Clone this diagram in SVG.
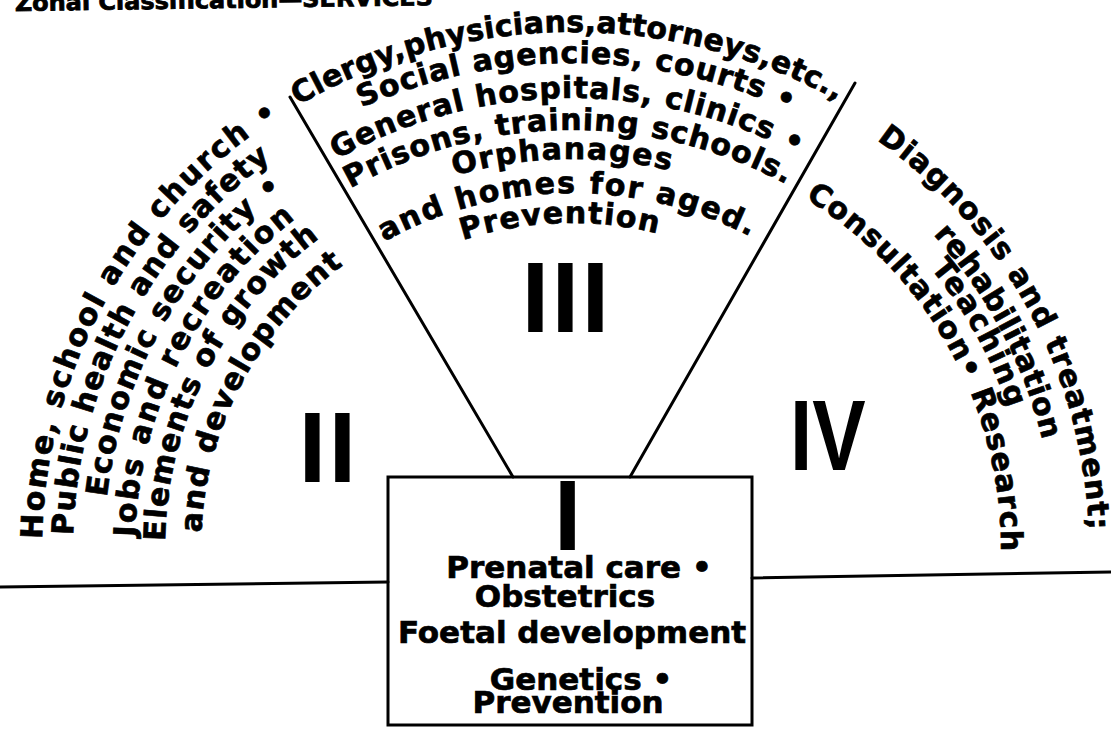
<svg xmlns="http://www.w3.org/2000/svg" width="1111" height="729" viewBox="0 0 1111 729">
<style>
.t{font-family:"DejaVu Sans","Liberation Sans",sans-serif;font-weight:bold;font-size:30px;fill:#000;stroke:#000;stroke-width:0.7}
.bx{font-family:"DejaVu Sans","Liberation Sans",sans-serif;font-weight:bold;font-size:31px;fill:#000;stroke:#000;stroke-width:0.7;text-anchor:middle}
.num{font-family:"Liberation Sans",Arial,sans-serif;font-weight:bold;font-size:100px;fill:#000}
.ln{stroke:#000;stroke-width:3;fill:none;stroke-linecap:round}
</style>
<defs>
<path id="a1" d="M42.1,539.1 A511,511 0 0 1 278.4,117.0"/>
<path id="a2" d="M73.2,535.4 A480,480 0 0 1 270.9,159.7"/>
<path id="a3" d="M106.9,497.2 A449,449 0 0 1 282.8,189.4"/>
<path id="a4" d="M135.1,537.1 A418,418 0 0 1 295.6,218.6"/>
<path id="a5" d="M165.1,541.2 A388,388 0 0 1 319.5,238.1"/>
<path id="a6" d="M201.3,532.6 A352,352 0 0 1 343.6,265.0"/>
<path id="b1" d="M298,105.4 A548,548 0 0 1 837.7,100.7"/>
<path id="b2" d="M361.7,107.7 A517,517 0 0 1 790.5,111.4"/>
<path id="b3" d="M336.8,159.3 A482,482 0 0 1 798.3,154.4"/>
<path id="b4" d="M350.4,188.3 A450,450 0 0 1 786.7,184.5"/>
<path id="b5" d="M454.5,175.7 A421,421 0 0 1 670.3,170.6"/>
<path id="b6" d="M384.4,241.5 A387,387 0 0 1 750.7,236.7"/>
<path id="b7" d="M462.9,240.1 A357,357 0 0 1 657.1,233.3"/>
<path id="c1" d="M876.6,140.0 A498,498 0 0 1 1088.7,530.6"/>
<path id="c2" d="M933.1,234.5 A464,464 0 0 1 1042.2,439.7"/>
<path id="c3" d="M930.5,268.1 A440,440 0 0 1 1008.3,408.4"/>
<path id="c4" d="M805.2,198.4 A410,410 0 0 1 1001,551.6"/>
</defs>

<g id="title">
<text x="15" y="11" transform="rotate(-0.8 15 11)" font-family="DejaVu Sans, Liberation Sans, sans-serif" font-weight="bold" font-size="23" stroke="#000" stroke-width="0.8" textLength="418" lengthAdjust="spacingAndGlyphs">Zonal Classification—SERVICES</text>
</g>

<g id="connectors">
<line class="ln" x1="0" y1="587" x2="388" y2="582"/>
<line class="ln" x1="752" y1="578" x2="1111" y2="572"/>
<line class="ln" x1="290" y1="97" x2="513" y2="477"/>
<line class="ln" x1="855" y1="83" x2="630" y2="477"/>
</g>

<g id="zone-II">
<text class="t"><textPath href="#a1" textLength="504" lengthAdjust="spacing">Home, school and church •</textPath></text>
<text class="t"><textPath href="#a2" textLength="440" lengthAdjust="spacing">Public health and safety</textPath></text>
<text class="t"><textPath href="#a3" textLength="364" lengthAdjust="spacing">Economic security •</textPath></text>
<text class="t"><textPath href="#a4" textLength="368" lengthAdjust="spacing">Jobs and recreation</textPath></text>
<text class="t"><textPath href="#a5" textLength="352" lengthAdjust="spacing">Elements of growth</textPath></text>
<text class="t"><textPath href="#a6" textLength="313" lengthAdjust="spacing">and development</textPath></text>
<text class="num" x="298.6" y="482" letter-spacing="2">II</text>
</g>

<g id="zone-III">
<text class="t"><textPath href="#b1" textLength="564" lengthAdjust="spacing">Clergy,physicians,attorneys,etc.,</textPath></text>
<text class="t"><textPath href="#b2" textLength="442" lengthAdjust="spacing">Social agencies, courts •</textPath></text>
<text class="t"><textPath href="#b3" textLength="481" lengthAdjust="spacing">General hospitals, clinics •</textPath></text>
<text class="t"><textPath href="#b4" textLength="455" lengthAdjust="spacing">Prisons, training schools.</textPath></text>
<text class="t"><textPath href="#b5" textLength="218" lengthAdjust="spacing">Orphanages</textPath></text>
<text class="t"><textPath href="#b6" textLength="381" lengthAdjust="spacing">and homes for aged.</textPath></text>
<text class="t"><textPath href="#b7" textLength="197" lengthAdjust="spacing">Prevention</textPath></text>
<text class="num" x="521.6" y="332" letter-spacing="2.2">III</text>
</g>

<g id="zone-IV">
<text class="t"><textPath href="#c1" textLength="460" lengthAdjust="spacing">Diagnosis and treatment;</textPath></text>
<text class="t"><textPath href="#c2" textLength="235" lengthAdjust="spacing">rehabilitation</textPath></text>
<text class="t"><textPath href="#c3" textLength="161" lengthAdjust="spacing">Teaching</textPath></text>
<text class="t"><textPath href="#c4" textLength="422" lengthAdjust="spacing">Consultation• Research</textPath></text>
<text class="num" transform="translate(790,470) scale(0.8,1)" x="0" y="0">IV</text>
</g>

<g id="zone-I">
<rect class="ln" x="388" y="477" width="364" height="248" stroke-linecap="butt"/>
<text class="num" x="553.7" y="550" font-size="98">I</text>
<text class="bx" x="579" y="578">Prenatal care •</text>
<text class="bx" x="565" y="607">Obstetrics</text>
<text class="bx" x="572" y="643">Foetal development</text>
<text class="bx" x="581" y="690">Genetics •</text>
<text class="bx" x="568" y="713">Prevention</text>
</g>
</svg>
